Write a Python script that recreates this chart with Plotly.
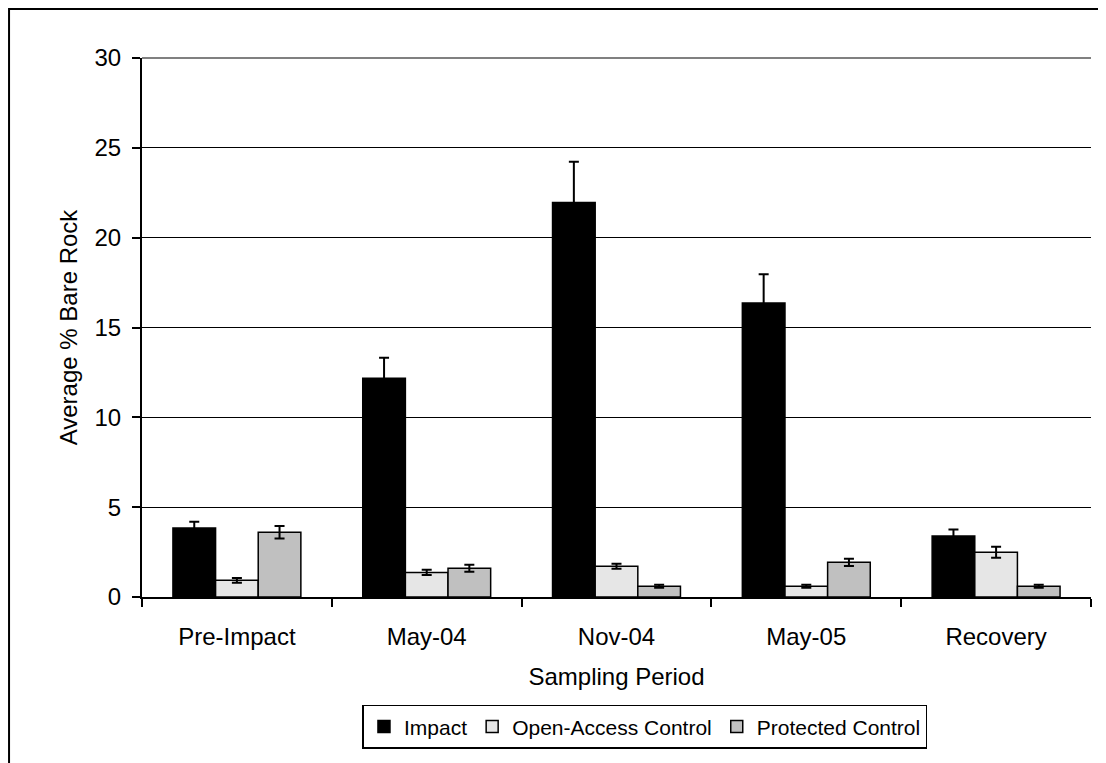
import plotly.graph_objects as go

# data
periods = ["Pre-Impact", "May-04", "Nov-04", "May-05", "Recovery"]
impact = [3.84, 12.17, 21.96, 16.36, 3.39]
impact_err = [0.35, 1.15, 2.26, 1.6, 0.37]
open_access = [0.93, 1.37, 1.71, 0.6, 2.49]
open_access_err = [0.13, 0.14, 0.14, 0.08, 0.3]
protected = [3.6, 1.6, 0.6, 1.93, 0.6]
protected_err = [0.35, 0.19, 0.08, 0.2, 0.08]

series = [
    ("Impact", impact, impact_err, "#000000"),
    ("Open-Access Control", open_access, open_access_err, "#e6e6e6"),
    ("Protected Control", protected, protected_err, "#c0c0c0"),
]

fig = go.Figure()
for name, vals, errs, color in series:
    fig.add_trace(go.Bar(
        x=periods, y=vals, name=name,
        marker=dict(color=color, line=dict(color="black", width=1.5)),
        error_y=dict(type="data", array=errs, visible=True,
                     color="black", thickness=2, width=5),
    ))

font = "Liberation Sans, Arial, sans-serif"
fig.update_layout(
    width=1098, height=755,
    margin=dict(l=134, r=15, t=50, b=166),
    paper_bgcolor="white", plot_bgcolor="white",
    barmode="group", bargap=0.326, bargroupgap=0,
    font=dict(family=font, size=24, color="black"),
    showlegend=True,
    legend=dict(orientation="h", x=0.53, xanchor="center", y=-0.2, yanchor="top",
                bordercolor="black", borderwidth=1.5, font=dict(size=21),
                itemwidth=30, traceorder="normal"),
    xaxis=dict(title=dict(text="Sampling Period", standoff=20, font=dict(size=24)),
               tickfont=dict(size=24),
               showline=True, linecolor="black", linewidth=1.5,
               ticks="outside", tickson="boundaries", ticklen=8, tickwidth=1.5,
               tickcolor="black", showgrid=False, ticklabelstandoff=17),
    yaxis=dict(title=dict(text="Average % Bare Rock", standoff=10, font=dict(size=24)),
               tickfont=dict(size=24),
               range=[0, 30], tickvals=[0, 5, 10, 15, 20, 25, 30],
               showline=True, linecolor="black", linewidth=2,
               ticks="outside", ticklen=8, tickwidth=1.5, tickcolor="black",
               showgrid=True, gridcolor="black", gridwidth=1, zeroline=False,
               ticklabelstandoff=6),
    shapes=[
        dict(type="line", xref="paper", yref="paper", x0=0, x1=1, y0=1, y1=1,
             line=dict(color="#808080", width=2)),
        dict(type="rect", xref="paper", yref="paper",
             x0=-0.1401, x1=1.03, y0=-0.33, y1=1.0909,
             line=dict(color="black", width=2)),
    ],
)

fig.write_html("out.html")
